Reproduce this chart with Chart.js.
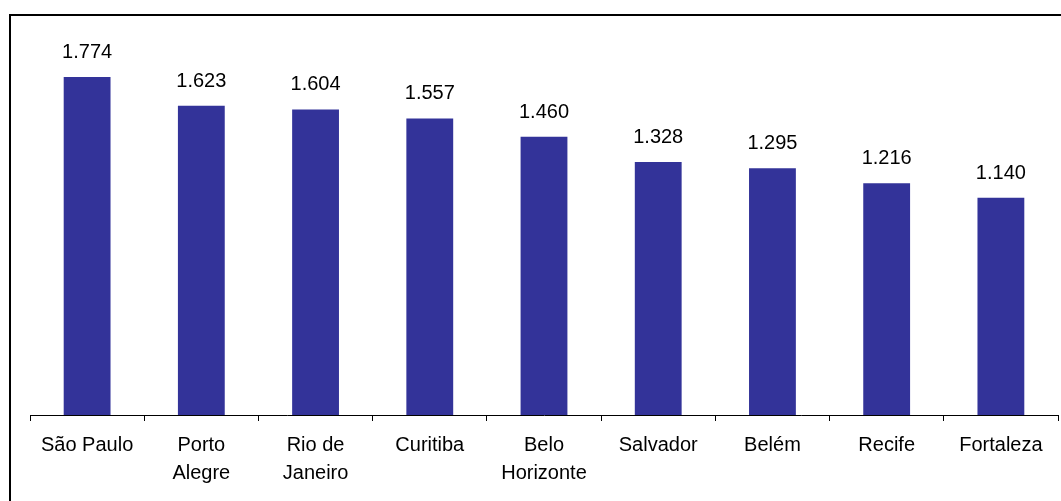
<!DOCTYPE html>
<html>
<head>
<meta charset="utf-8">
<script src="https://cdn.jsdelivr.net/npm/chart.js@4"></script>
<style>
  html, body { margin: 0; padding: 0; background: #fff; }
  #wrap { width: 1061px; height: 501px; }
</style>
</head>
<body>
<div id="wrap"><canvas id="bar_chart" width="1061" height="501"></canvas></div>
<script>
var cities = [['São Paulo'], ['Porto', 'Alegre'], ['Rio de', 'Janeiro'], ['Curitiba'], ['Belo', 'Horizonte'], ['Salvador'], ['Belém'], ['Recife'], ['Fortaleza']];
var values = [1774, 1623, 1604, 1557, 1460, 1328, 1295, 1216, 1140];

var fontFamily = '"Liberation Sans", Arial, sans-serif';

function format_value(v){
  var s = String(v);
  return s.length > 3 ? s.slice(0, s.length - 3) + '.' + s.slice(-3) : s;
}

// moldura e rótulos de valor
var frame_plugin = {
  id: 'frame',
  afterDraw: function(chart){
    var ctx = chart.ctx;
    ctx.save();
    ctx.strokeStyle = '#000';
    ctx.lineWidth = 2;
    ctx.strokeRect(10, 15, 1200, 700);
    ctx.restore();
  }
};

var value_labels_plugin = {
  id: 'value_labels',
  afterDatasetsDraw: function(chart){
    var ctx = chart.ctx;
    var meta = chart.getDatasetMeta(0);
    ctx.save();
    ctx.font = '20px ' + fontFamily;
    ctx.fillStyle = '#000';
    ctx.textAlign = 'center';
    ctx.textBaseline = 'alphabetic';
    meta.data.forEach(function(bar, i){
      ctx.fillText(format_value(values[i]), bar.x, bar.y - 19);
    });
    ctx.restore();
  }
};

var ctx = document.getElementById('bar_chart').getContext('2d');
new Chart(ctx, {
  type: 'bar',
  data: {
    labels: cities,
    datasets: [{
      data: values,
      backgroundColor: '#333399',
      borderWidth: 0,
      categoryPercentage: 1,
      barPercentage: 0.41
    }]
  },
  options: {
    responsive: false,
    animation: false,
    layout: { padding: { left: 30, right: 3, top: 34, bottom: 0 } },
    plugins: {
      legend: { display: false },
      tooltip: { enabled: false }
    },
    scales: {
      x: {
        grid: { drawOnChartArea: false, drawTicks: true, tickLength: 6, color: '#000', offset: true },
        border: { color: '#000', width: 1 },
        ticks: {
          color: '#000',
          padding: 10,
          maxRotation: 0,
          autoSkip: false,
          font: { family: fontFamily, size: 20, lineHeight: 1.4 }
        },
        afterFit: function(scale){ scale.height = 86; }
      },
      y: {
        display: false,
        min: 0,
        max: 2000
      }
    }
  },
  plugins: [frame_plugin, value_labels_plugin]
});
</script>
</body>
</html>
